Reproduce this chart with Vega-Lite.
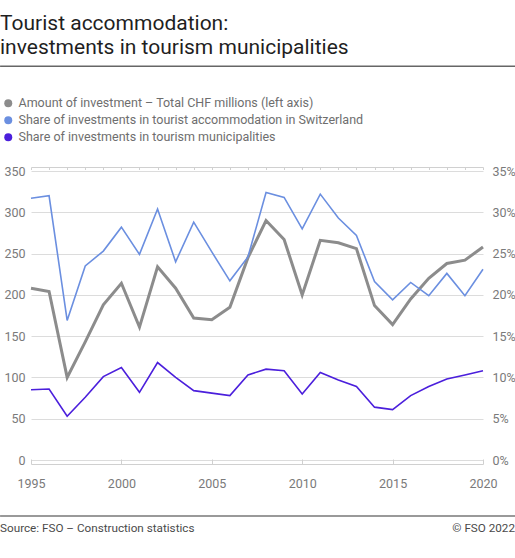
{
  "$schema": "https://vega.github.io/schema/vega-lite/v6.json",
  "width": 452,
  "height": 289,
  "autosize": {"type": "none"},
  "padding": {"left": 31, "top": 171, "right": 32, "bottom": 98},
  "config": {
    "font": "Roboto",
    "view": {"stroke": null},
    "axis": {"labelFont": "Roboto", "labelFontSize": 12.5, "labelColor": "#7a7a7a", "title": null},
    "axisX": {"labelOverlap": false, "labelFlush": false, "grid": false, "domainColor": "#d0d0d0", "tickColor": "#d0d0d0", "offset": 4}
  },
  "title": {
    "text": ["Tourist accommodation:", "investments in tourism municipalities"],
    "anchor": "start",
    "frame": "group",
    "fontSize": 21,
    "fontWeight": "normal",
    "color": "#1f1f1f",
    "lineHeight": 24,
    "dx": -31,
    "offset": 7
  },
  "datasets": {
    "amount": [
      {"year": 1995, "series": "amount", "value": 208},
      {"year": 1996, "series": "amount", "value": 204},
      {"year": 1997, "series": "amount", "value": 100},
      {"year": 1998, "series": "amount", "value": 143},
      {"year": 1999, "series": "amount", "value": 188},
      {"year": 2000, "series": "amount", "value": 214},
      {"year": 2001, "series": "amount", "value": 161},
      {"year": 2002, "series": "amount", "value": 234},
      {"year": 2003, "series": "amount", "value": 208},
      {"year": 2004, "series": "amount", "value": 172},
      {"year": 2005, "series": "amount", "value": 170},
      {"year": 2006, "series": "amount", "value": 185},
      {"year": 2007, "series": "amount", "value": 245},
      {"year": 2008, "series": "amount", "value": 290},
      {"year": 2009, "series": "amount", "value": 267},
      {"year": 2010, "series": "amount", "value": 200},
      {"year": 2011, "series": "amount", "value": 266},
      {"year": 2012, "series": "amount", "value": 263},
      {"year": 2013, "series": "amount", "value": 256},
      {"year": 2014, "series": "amount", "value": 187},
      {"year": 2015, "series": "amount", "value": 164},
      {"year": 2016, "series": "amount", "value": 195},
      {"year": 2017, "series": "amount", "value": 220},
      {"year": 2018, "series": "amount", "value": 238},
      {"year": 2019, "series": "amount", "value": 242},
      {"year": 2020, "series": "amount", "value": 258}
    ],
    "shares": [
      {"year": 1995, "series": "swiss", "value": 31.7},
      {"year": 1996, "series": "swiss", "value": 32.0},
      {"year": 1997, "series": "swiss", "value": 16.9},
      {"year": 1998, "series": "swiss", "value": 23.5},
      {"year": 1999, "series": "swiss", "value": 25.3},
      {"year": 2000, "series": "swiss", "value": 28.2},
      {"year": 2001, "series": "swiss", "value": 24.9},
      {"year": 2002, "series": "swiss", "value": 30.4},
      {"year": 2003, "series": "swiss", "value": 24.0},
      {"year": 2004, "series": "swiss", "value": 28.8},
      {"year": 2005, "series": "swiss", "value": 25.2},
      {"year": 2006, "series": "swiss", "value": 21.7},
      {"year": 2007, "series": "swiss", "value": 24.6},
      {"year": 2008, "series": "swiss", "value": 32.4},
      {"year": 2009, "series": "swiss", "value": 31.8},
      {"year": 2010, "series": "swiss", "value": 28.0},
      {"year": 2011, "series": "swiss", "value": 32.2},
      {"year": 2012, "series": "swiss", "value": 29.3},
      {"year": 2013, "series": "swiss", "value": 27.2},
      {"year": 2014, "series": "swiss", "value": 21.6},
      {"year": 2015, "series": "swiss", "value": 19.4},
      {"year": 2016, "series": "swiss", "value": 21.5},
      {"year": 2017, "series": "swiss", "value": 19.9},
      {"year": 2018, "series": "swiss", "value": 22.6},
      {"year": 2019, "series": "swiss", "value": 19.9},
      {"year": 2020, "series": "swiss", "value": 23.1},
      {"year": 1995, "series": "tourism", "value": 8.5},
      {"year": 1996, "series": "tourism", "value": 8.6},
      {"year": 1997, "series": "tourism", "value": 5.3},
      {"year": 1998, "series": "tourism", "value": 7.6},
      {"year": 1999, "series": "tourism", "value": 10.1},
      {"year": 2000, "series": "tourism", "value": 11.2},
      {"year": 2001, "series": "tourism", "value": 8.2},
      {"year": 2002, "series": "tourism", "value": 11.8},
      {"year": 2003, "series": "tourism", "value": 10.0},
      {"year": 2004, "series": "tourism", "value": 8.4},
      {"year": 2005, "series": "tourism", "value": 8.1},
      {"year": 2006, "series": "tourism", "value": 7.8},
      {"year": 2007, "series": "tourism", "value": 10.3},
      {"year": 2008, "series": "tourism", "value": 11.0},
      {"year": 2009, "series": "tourism", "value": 10.8},
      {"year": 2010, "series": "tourism", "value": 8.0},
      {"year": 2011, "series": "tourism", "value": 10.6},
      {"year": 2012, "series": "tourism", "value": 9.7},
      {"year": 2013, "series": "tourism", "value": 8.9},
      {"year": 2014, "series": "tourism", "value": 6.4},
      {"year": 2015, "series": "tourism", "value": 6.1},
      {"year": 2016, "series": "tourism", "value": 7.8},
      {"year": 2017, "series": "tourism", "value": 8.9},
      {"year": 2018, "series": "tourism", "value": 9.8},
      {"year": 2019, "series": "tourism", "value": 10.3},
      {"year": 2020, "series": "tourism", "value": 10.8}
    ]
  },
  "layer": [
    {
      "layer": [
        {
          "data": {"name": "amount"},
          "mark": {"type": "line", "strokeWidth": 3},
          "encoding": {
            "x": {
              "field": "year",
              "type": "quantitative",
              "scale": {"domain": [1995, 2020]},
              "axis": {
                "values": [1995, 2000, 2005, 2010, 2015, 2020],
                "format": "d",
                "tickSize": -5,
                "labelPadding": 18
              }
            },
            "y": {
              "field": "value",
              "type": "quantitative",
              "scale": {"domain": [0, 350]},
              "axis": {
                "values": [0, 50, 100, 150, 200, 250, 300, 350],
                "domain": false,
                "ticks": false,
                "grid": true,
                "gridColor": "#dcdcdc",
                "labelPadding": 6
              }
            },
            "color": {
              "field": "series",
              "type": "nominal",
              "scale": {"domain": ["amount", "swiss", "tourism"], "range": ["#8c8c8c", "#6b8fe0", "#4b1fdc"]},
              "legend": {
                "orient": "none",
                "legendX": -29,
                "legendY": -74,
                "title": null,
                "symbolType": "circle",
                "symbolSize": 64,
                "symbolStrokeWidth": 0,
                "symbolOpacity": 1,
                "labelFont": "Roboto",
                "labelFontSize": 12.5,
                "labelColor": "#6e6e6e",
                "labelOffset": 4,
                "labelLimit": 500,
                "rowPadding": 4,
                "padding": 0,
                "labelExpr": "datum.value === 'amount' ? 'Amount of investment – Total CHF millions (left axis)' : datum.value === 'swiss' ? 'Share of investments in tourist accommodation in Switzerland' : 'Share of investments in tourism municipalities'",
                "encode": {
                  "symbols": {"update": {"fill": {"scale": "color", "field": "value"}, "strokeWidth": {"value": 0}}}
                }
              }
            }
          }
        },
        {
          "data": {"values": [{}]},
          "mark": {"type": "rule", "color": "#666666", "strokeWidth": 1.5, "clip": false},
          "encoding": {
            "x": {"datum": 1993.29, "type": "quantitative", "scale": {"domain": [1995, 2020]}},
            "x2": {"datum": 2021.77},
            "y": {"datum": 477, "type": "quantitative", "scale": {"domain": [0, 350]}}
          }
        },
        {
          "data": {"values": [{}]},
          "mark": {"type": "rule", "color": "#777777", "strokeWidth": 1.5, "clip": false},
          "encoding": {
            "x": {"datum": 1993.29, "type": "quantitative", "scale": {"domain": [1995, 2020]}},
            "x2": {"datum": 2021.77},
            "y": {"datum": -67.8, "type": "quantitative", "scale": {"domain": [0, 350]}}
          }
        },
        {
          "data": {"values": [{}]},
          "mark": {"type": "text", "align": "left", "baseline": "middle", "fontSize": 11.7, "color": "#4a4a4a", "clip": false},
          "encoding": {
            "x": {"datum": 1993.29, "type": "quantitative", "scale": {"domain": [1995, 2020]}},
            "y": {"datum": -82.4, "type": "quantitative", "scale": {"domain": [0, 350]}},
            "text": {"value": "Source: FSO – Construction statistics"}
          }
        },
        {
          "data": {"values": [{}]},
          "mark": {"type": "text", "align": "right", "baseline": "middle", "fontSize": 11.7, "color": "#4a4a4a", "clip": false},
          "encoding": {
            "x": {"datum": 2021.77, "type": "quantitative", "scale": {"domain": [1995, 2020]}},
            "y": {"datum": -82.4, "type": "quantitative", "scale": {"domain": [0, 350]}},
            "text": {"value": "© FSO 2022"}
          }
        }
      ]
    },
    {
      "data": {"name": "shares"},
      "mark": {"type": "line", "strokeWidth": 1.6},
      "encoding": {
        "x": {
          "field": "year",
          "type": "quantitative",
          "scale": {"domain": [1995, 2020]},
          "axis": {
            "values": [1995, 1996, 1997, 1998, 1999, 2000, 2001, 2002, 2003, 2004, 2005, 2006, 2007, 2008, 2009, 2010, 2011, 2012, 2013, 2014, 2015, 2016, 2017, 2018, 2019, 2020],
            "labels": false,
            "tickSize": -2.5
          }
        },
        "y": {
          "field": "value",
          "type": "quantitative",
          "scale": {"domain": [0, 35]},
          "axis": {
            "orient": "right",
            "values": [0, 5, 10, 15, 20, 25, 30, 35],
            "labelExpr": "datum.value + '%'",
            "grid": false,
            "domain": false,
            "ticks": false,
            "labelPadding": 9
          }
        },
        "color": {"field": "series", "type": "nominal"}
      }
    }
  ],
  "resolve": {"scale": {"y": "independent"}, "axis": {"x": "independent"}}
}
